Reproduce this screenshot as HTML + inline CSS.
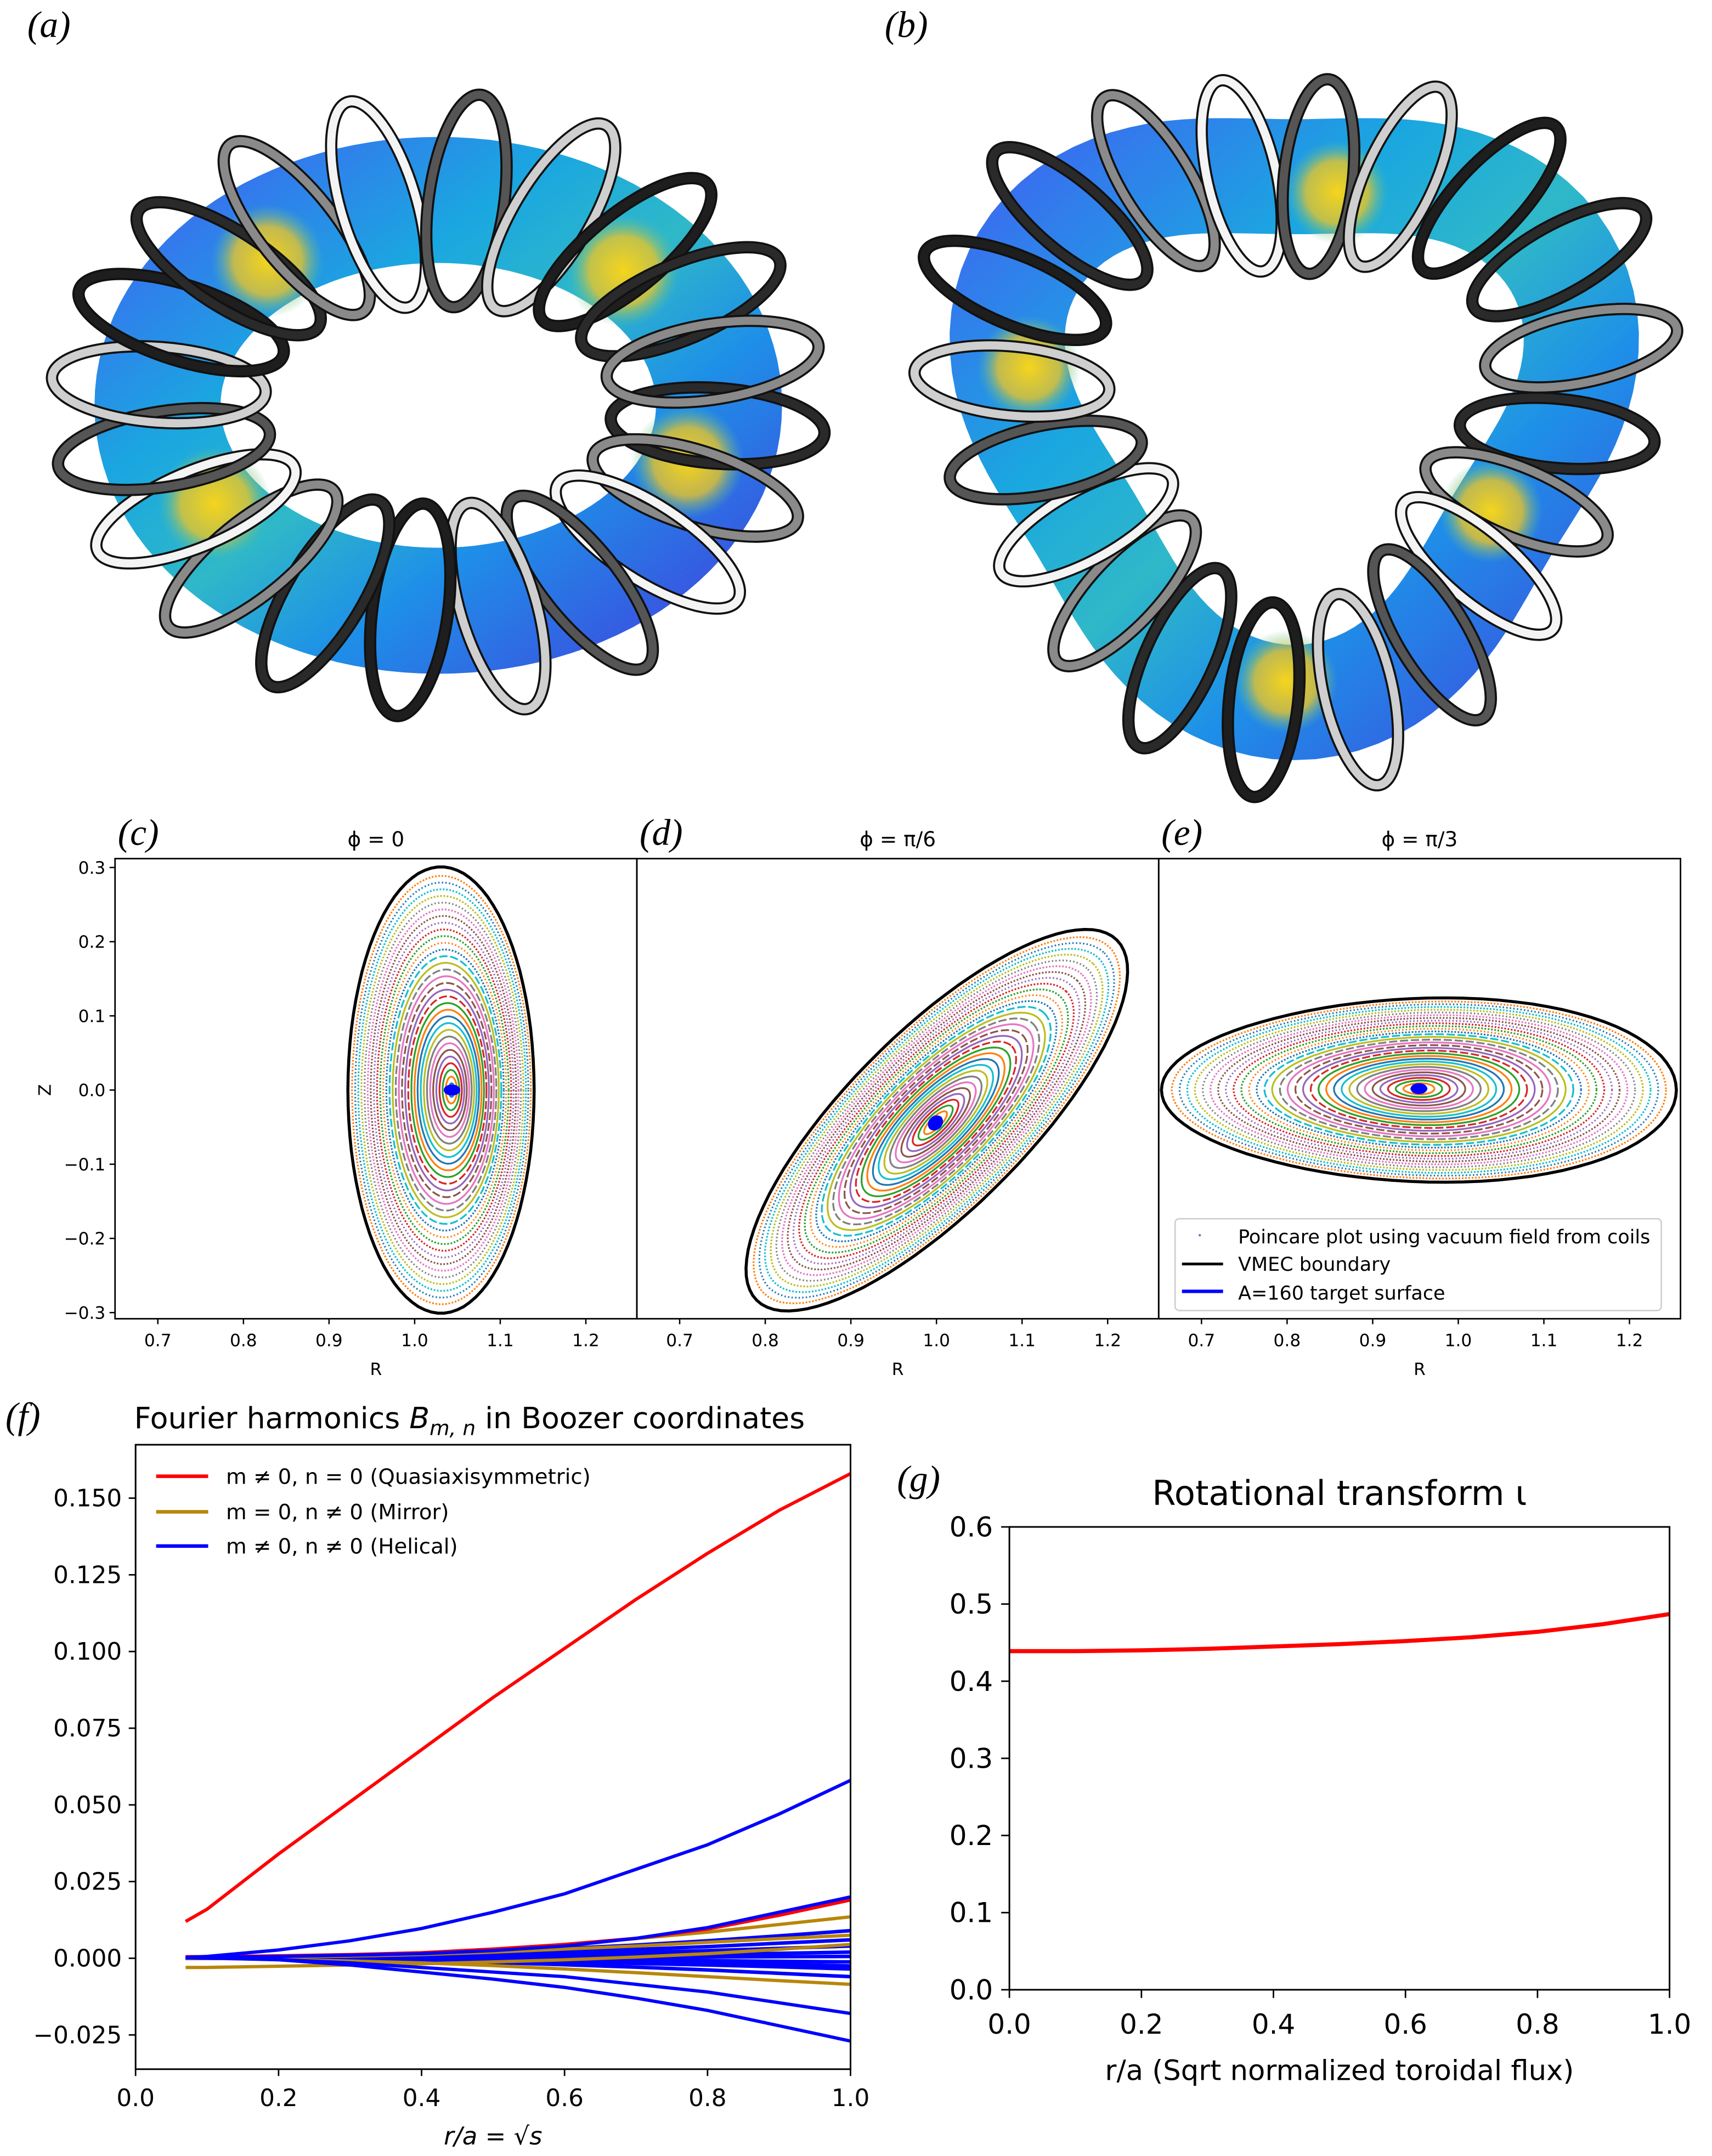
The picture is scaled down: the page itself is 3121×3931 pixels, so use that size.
<!DOCTYPE html>
<html><head><meta charset="utf-8"><style>
html,body{margin:0;padding:0;background:#fff;}
svg{display:block;}
text{font-family:"DejaVu Sans","Liberation Sans",sans-serif;fill:#000;}
.lab{font-family:"Liberation Serif",serif;font-style:italic;font-size:27px;}
</style></head><body>
<svg id="fig" xmlns="http://www.w3.org/2000/svg" width="3121" height="3931" viewBox="0 0 1250 1574.4" preserveAspectRatio="none">
<defs>
<linearGradient id="gA" x1="0" y1="0" x2="1" y2="1">
<stop offset="0" stop-color="#3a6df0"/><stop offset="0.3" stop-color="#1aa7e0"/><stop offset="0.5" stop-color="#2fb8c8"/><stop offset="0.7" stop-color="#1e90e8"/><stop offset="1" stop-color="#3b4fe0"/>
</linearGradient>
<radialGradient id="gY" cx="0.5" cy="0.5" r="0.5"><stop offset="0" stop-color="#f5d51c"/><stop offset="0.6" stop-color="#e8c52a" stop-opacity="0.8"/><stop offset="1" stop-color="#4fc0a0" stop-opacity="0"/></radialGradient>
</defs>
<text class="lab" x="20" y="27">(a)</text>
<text class="lab" x="646" y="27">(b)</text>
<g id="torusA"></g>
<g id="torusB"></g>
<g id="poinc"></g>
<g id="fplot"></g>
<g id="gplot"></g>
</svg>
<script>
// ---------- data: Fourier harmonics (f) ----------
const fx = [0.07, 0.1, 0.2, 0.3, 0.4, 0.5, 0.6, 0.7, 0.8, 0.9, 1.0];
const fRedMain = [0.012, 0.016, 0.034, 0.051, 0.068, 0.085, 0.101, 0.117, 0.132, 0.146, 0.158];
const fRedSmall = [0.0005,0.0005,0.0008,0.0012,0.0018,0.003,0.0045,0.0065,0.0095,0.014,0.019];
const fBlueBig = [0.0003,0.0006,0.0027,0.0057,0.0097,0.015,0.021,0.029,0.037,0.047,0.058];
const fBlueUp = [0.0003,0.0003,0.0006,0.001,0.0015,0.0025,0.004,0.0065,0.010,0.015,0.020];
const fBlueLow1 = [0.0002,0.0001,-0.0005,-0.0022,-0.0045,-0.0068,-0.0095,-0.013,-0.017,-0.022,-0.027];
const fBlueLow2 = [0.0002,0.0001,-0.0004,-0.0015,-0.003,-0.0045,-0.006,-0.0085,-0.011,-0.0145,-0.018];
const fBlueFan = [
  [0.0002,0.0002,0.0003,0.0007,0.0013,0.0022,0.0032,0.0043,0.0057,0.0073,0.009],
  [0.0002,0.0002,0.0002,0.0005,0.0009,0.0014,0.0021,0.0029,0.0038,0.0049,0.006],
  [0.0001,0.0001,0.0001,0.0003,0.0006,0.001,0.0014,0.0019,0.0025,0.0032,0.004],
  [0.0001,0.0001,0.0001,0.0002,0.0003,0.0005,0.0007,0.001,0.0013,0.0016,0.002],
  [0,0,0,0,0.0001,0.0001,0.0002,0.0003,0.0004,0.0005,0.0006],
  [0,0,0,-0.0001,-0.0002,-0.0003,-0.0004,-0.0006,-0.0008,-0.001,-0.0012],
  [0,0,-0.0001,-0.0002,-0.0004,-0.0006,-0.0009,-0.0012,-0.0016,-0.002,-0.0025],
  [0,0,-0.0001,-0.0003,-0.0005,-0.0008,-0.0012,-0.0017,-0.0022,-0.0028,-0.0035],
  [0,0,-0.0002,-0.0005,-0.0009,-0.0014,-0.0021,-0.0029,-0.0038,-0.0049,-0.006]
];
const fMirror = [
  [-0.003,-0.003,-0.0026,-0.0022,-0.0018,-0.0012,-0.0005,0.0004,0.0015,0.0029,0.0045],
  [0.0005,0.0005,0.0007,0.0011,0.0018,0.003,0.0045,0.0064,0.0085,0.011,0.0135],
  [0.0003,0.0003,0.0004,0.0007,0.0012,0.002,0.003,0.004,0.0052,0.0064,0.0075],
  [0,0,-0.0004,-0.0009,-0.0015,-0.0024,-0.0035,-0.0047,-0.006,-0.0073,-0.0085]
];
const fXTicks = [0.0, 0.2, 0.4, 0.6, 0.8, 1.0];
const fYTicks = [0.150, 0.125, 0.100, 0.075, 0.050, 0.025, 0.000, -0.025];
// ---------- data: rotational transform (g) ----------
const gx = [0.0, 0.1, 0.2, 0.3, 0.4, 0.5, 0.6, 0.7, 0.8, 0.9, 1.0];
const gIota = [0.439, 0.439, 0.440, 0.442, 0.445, 0.448, 0.452, 0.457, 0.464, 0.474, 0.487];
const gXTicks = [0.0, 0.2, 0.4, 0.6, 0.8, 1.0];
const gYTicks = [0.0, 0.1, 0.2, 0.3, 0.4, 0.5, 0.6];
// ---------- data: Poincare ----------
const pSurf = [0.03,0.06,0.09,0.12,0.15,0.18,0.21,0.24,0.27,0.30,0.33,0.36,0.39,0.42,0.45,0.48,0.51,0.54,0.57,0.60,0.63,0.66,0.69,0.72,0.75,0.78,0.81,0.84,0.87,0.90,0.93,0.96];
const pRTicks = [0.7, 0.8, 0.9, 1.0, 1.1, 1.2];
const pZTicks = [0.3, 0.2, 0.1, 0.0, -0.1, -0.2, -0.3];
const tab10 = ['#1f77b4','#ff7f0e','#2ca02c','#d62728','#9467bd','#8c564b','#e377c2','#7f7f7f','#bcbd22','#17becf'];

const NS = 'http://www.w3.org/2000/svg';
function mk(parent, tag, attrs, txt){
  const e = document.createElementNS(NS, tag);
  for (const k in attrs) e.setAttribute(k, attrs[k]);
  if (txt !== undefined) e.textContent = txt;
  parent.appendChild(e);
  return e;
}

// ---------- tori ----------
function torus(gid, cx, cy, rx, ry, tw, tri, ncoil, yell){
  const g = document.getElementById(gid);
  function ringPt(t, k){
    const m = tri ? 1 + 0.12*Math.cos(3*t + Math.PI/2) : 1;
    return [cx + rx*k*m*Math.cos(t), cy + ry*k*m*Math.sin(t)];
  }
  let d = '';
  for (let i=0;i<=120;i++){ const p = ringPt(i/120*2*Math.PI, 1); d += (i?'L':'M')+p[0].toFixed(1)+' '+p[1].toFixed(1); }
  const body = mk(g,'path',{d:d+'Z',fill:'none',stroke:'url(#gA)','stroke-width':tw});
  
  
  for (const a of yell){
    const p = ringPt(a, 0.93);
    const y = mk(g,'ellipse',{cx:p[0],cy:p[1],rx:tw*0.45,ry:tw*0.45,fill:'url(#gY)'});
    
    
  }
  const shades = ['#2a2a2a','#8a8a8a','#f4f4f4','#555','#cfcfcf','#1e1e1e'];
  for (let i=0;i<ncoil;i++){
    const t = i/ncoil*2*Math.PI + 0.1;
    const p = ringPt(t, 1);
    const ang = Math.atan2(Math.sin(t)*ry, Math.cos(t)*rx)*180/Math.PI;
    const attrs = {cx:p[0],cy:p[1],rx:tw*0.85,ry:tw*0.3,transform:'rotate('+ang.toFixed(1)+' '+p[0].toFixed(1)+' '+p[1].toFixed(1)+')',fill:'none'};
    const o = mk(g,'ellipse',Object.assign({},attrs,{stroke:'#111','stroke-width':9}));
    
    
    const c = mk(g,'ellipse',Object.assign({},attrs,{stroke:shades[i%shades.length],'stroke-width':6}));
    
    
  }
}
torus('torusA', 320, 296, 205, 150, 92, false, 20, [2.6, 5.5, 0.3, 4.0]);
torus('torusB', 945, 298, 200, 192, 84, true, 20, [3.3, 0.5, 1.6, 4.9]);

// ---------- Poincare panels ----------
const P = document.getElementById('poinc');
const panels = [
  {x0:84, lab:'(c)', title:'\u03d5 =  0', ac:[330,796], bc:[322,796], rx:68, ry:163, rot:0, egg:0},
  {x0:465, lab:'(d)', title:'\u03d5 =  \u03c0/6', ac:[683,820], bc:[684,818], rx:186, ry:65, rot:-45, egg:0},
  {x0:846, lab:'(e)', title:'\u03d5 =  \u03c0/3', ac:[1036,795], bc:[1036,796], rx:188, ry:67, rot:0, egg:0.1}
];
const pTop=627, pBot=963, pW=381;
panels.forEach((pn, pi)=>{
  const g = mk(P,'g',{});
  
  
  const clip = mk(g,'clipPath',{id:'clip'+pi}); mk(clip,'rect',{x:pn.x0,y:pTop,width:pW,height:pBot-pTop});
  const inner = mk(g,'g',{'clip-path':'url(#clip'+pi+')'});
  function shape(s){
    const cx = pn.ac[0] + (pn.bc[0]-pn.ac[0])*s, cy = pn.ac[1] + (pn.bc[1]-pn.ac[1])*s;
    const r = pn.rot*Math.PI/180; let d='';
    for (let i=0;i<=90;i++){
      const t=i/90*2*Math.PI;
      const lx = pn.rx*s*Math.cos(t), ly = pn.ry*s*Math.sin(t)*(1+pn.egg*Math.cos(t));
      const x = cx + lx*Math.cos(r) - ly*Math.sin(r), y = cy + lx*Math.sin(r) + ly*Math.cos(r);
      d += (i?'L':'M')+x.toFixed(1)+' '+y.toFixed(1);
    }
    return d+'Z';
  }
  pSurf.forEach((s,i)=>{
    const dash = s>0.6 ? (i%3==0?'1 1.6':'1.2 1.2') : (s>0.4 && i%2 ? '6 2' : 'none');
    const e = mk(inner,'path',{d:shape(s),fill:'none',stroke:tab10[i%10],'stroke-width':1.3,'stroke-dasharray':dash});
    
    
  });
  const b = mk(inner,'path',{d:shape(1.0),fill:'none',stroke:'#000','stroke-width':2.2});
  
  
  const tgt = mk(inner,'ellipse',{cx:pn.ac[0],cy:pn.ac[1],rx:5,ry:pi==1?4:3,fill:'#0000ff',stroke:'#0000ff','stroke-width':2,transform:'rotate('+pn.rot+' '+pn.ac[0]+' '+pn.ac[1]+')'});
  
  
  const fr = mk(g,'rect',{x:pn.x0,y:pTop,width:pW,height:pBot-pTop,fill:'none',stroke:'#000','stroke-width':1.1});
  
  
  const tl = mk(g,'text',{x:pn.x0+pW/2,y:618,'font-size':15,'text-anchor':'middle'},pn.title);
  
  
  const pl = mk(g,'text',{x:pn.x0+2,y:617,class:'lab'},pn.lab);
  
  
  pRTicks.forEach(v=>{
    const x = pn.x0 + (v-0.65)*625;
    mk(g,'line',{x1:x,y1:pBot,x2:x,y2:pBot+4,stroke:'#000','stroke-width':1});
    const t = mk(g,'text',{x:x,y:pBot+20,'font-size':12.5,'text-anchor':'middle'},v.toFixed(1));
    
    
  });
  const xl = mk(g,'text',{x:pn.x0+pW/2,y:1004,'font-size':12.5,'text-anchor':'middle'},'R');
  
  
  if (pi==0){
    pZTicks.forEach(v=>{
      const y = 796 - v*541.7;
      mk(g,'line',{x1:pn.x0-4,y1:y,x2:pn.x0,y2:y,stroke:'#000','stroke-width':1});
      const t = mk(g,'text',{x:pn.x0-7,y:y+4.5,'font-size':12.5,'text-anchor':'end'},(v<0?'\u2212':'')+Math.abs(v).toFixed(1));
      
      
    });
    const yl = mk(g,'text',{x:37,y:796,'font-size':12.5,'text-anchor':'middle',transform:'rotate(-90 37 796)'},'Z');
    
    
  }
  if (pi==2){
    const lg = mk(g,'g',{});
    
    
    mk(lg,'rect',{x:858,y:890,width:355,height:67,rx:3,fill:'#fff',stroke:'#ccc','stroke-width':1});
    mk(lg,'circle',{cx:876,cy:902,r:0.9,fill:'#9467bd'});
    mk(lg,'text',{x:904,y:908,'font-size':14},'Poincare plot using vacuum field from coils');
    mk(lg,'line',{x1:863,y1:923,x2:893,y2:923,stroke:'#000','stroke-width':2});
    mk(lg,'text',{x:904,y:928,'font-size':14},'VMEC boundary');
    mk(lg,'line',{x1:863,y1:943,x2:893,y2:943,stroke:'#0000ff','stroke-width':2.5});
    mk(lg,'text',{x:904,y:949,'font-size':14},'A=160 target surface');
  }
});

// ---------- f chart ----------
const F = document.getElementById('fplot');
const fxs = v => 99 + v*522, fys = v => 1430 - v*2240;
function poly(g, xs, ys, sx, sy, col, sw, name){
  const d = xs.map((x,i)=>(i?'L':'M')+sx(x).toFixed(2)+' '+sy(ys[i]).toFixed(2)).join('');
  const p = mk(g,'path',{d:d,fill:'none',stroke:col,'stroke-width':sw,'stroke-linejoin':'round'});
  
  
}
fBlueFan.forEach(s=>poly(F, fx, s, fxs, fys, '#0000ff', 2.6, 'helical-harmonic-line'));
fMirror.forEach(s=>poly(F, fx, s, fxs, fys, '#b8860b', 2.4, 'mirror-harmonic-line'));
poly(F, fx, fRedSmall, fxs, fys, '#ff0000', 2.4, 'qa-harmonic-line');
[fBlueBig, fBlueUp, fBlueLow1, fBlueLow2].forEach(s=>poly(F, fx, s, fxs, fys, '#0000ff', 2.4, 'helical-harmonic-line'));
poly(F, fx, fRedMain, fxs, fys, '#ff0000', 2.4, 'qa-harmonic-line');
const ffr = mk(F,'rect',{x:99,y:1055,width:522,height:456,fill:'none',stroke:'#000','stroke-width':1.2});


fXTicks.forEach(v=>{
  mk(F,'line',{x1:fxs(v),y1:1511,x2:fxs(v),y2:1516,stroke:'#000','stroke-width':1.1});
  const t = mk(F,'text',{x:fxs(v),y:1538,'font-size':17.5,'text-anchor':'middle'},v.toFixed(1));
  
  
});
fYTicks.forEach(v=>{
  mk(F,'line',{x1:94,y1:fys(v),x2:99,y2:fys(v),stroke:'#000','stroke-width':1.1});
  const t = mk(F,'text',{x:89,y:fys(v)+6,'font-size':17.5,'text-anchor':'end'},(v<0?'\u2212':'')+Math.abs(v).toFixed(3));
  
  
});
const fl = mk(F,'text',{x:4,y:1043,class:'lab'},'(f)');


const ft = mk(F,'text',{x:98,y:1043,'font-size':21.5});


mk(ft,'tspan',{},'Fourier harmonics ');
mk(ft,'tspan',{'font-style':'italic'},'B');
mk(ft,'tspan',{'font-style':'italic','font-size':15,dy:5},'m, n');
mk(ft,'tspan',{dy:-5},' in Boozer coordinates');
const fxl = mk(F,'text',{x:360,y:1566,'font-size':18,'text-anchor':'middle','font-style':'italic'},'r/a = \u221As');


const leg = mk(F,'g',{});


[['#ff0000','m \u2260 0, n = 0 (Quasiaxisymmetric)',1078],['#b8860b','m = 0, n \u2260 0 (Mirror)',1104],['#0000ff','m \u2260 0, n \u2260 0 (Helical)',1129]].forEach(r=>{
  mk(leg,'line',{x1:114,y1:r[2],x2:152,y2:r[2],stroke:r[0],'stroke-width':2.6});
  mk(leg,'text',{x:165,y:r[2]+5.5,'font-size':15.5},r[1]);
});

// ---------- g chart ----------
const G = document.getElementById('gplot');
const gxs = v => 737 + v*482, gys = v => 1453 - v*563.3;
poly(G, gx, gIota, gxs, gys, '#ff0000', 3, 'iota-line');
const gfr = mk(G,'rect',{x:737,y:gys(0.6),width:482,height:563.3*0.6,fill:'none',stroke:'#000','stroke-width':1.2});


gXTicks.forEach(v=>{
  mk(G,'line',{x1:gxs(v),y1:1453,x2:gxs(v),y2:1459,stroke:'#000','stroke-width':1.1});
  const t = mk(G,'text',{x:gxs(v),y:1485,'font-size':20,'text-anchor':'middle'},v.toFixed(1));
  
  
});
gYTicks.forEach(v=>{
  mk(G,'line',{x1:731,y1:gys(v),x2:737,y2:gys(v),stroke:'#000','stroke-width':1.1});
  const t = mk(G,'text',{x:725,y:gys(v)+7,'font-size':20,'text-anchor':'end'},v.toFixed(1));
  
  
});
const gl = mk(G,'text',{x:655,y:1089,class:'lab'},'(g)');


const gt = mk(G,'text',{x:978,y:1099,'font-size':25,'text-anchor':'middle'},'Rotational transform \u03b9');


const gxl = mk(G,'text',{x:978,y:1519,'font-size':20.5,'text-anchor':'middle'},'r/a (Sqrt normalized toroidal flux)');


</script>
</body></html>
